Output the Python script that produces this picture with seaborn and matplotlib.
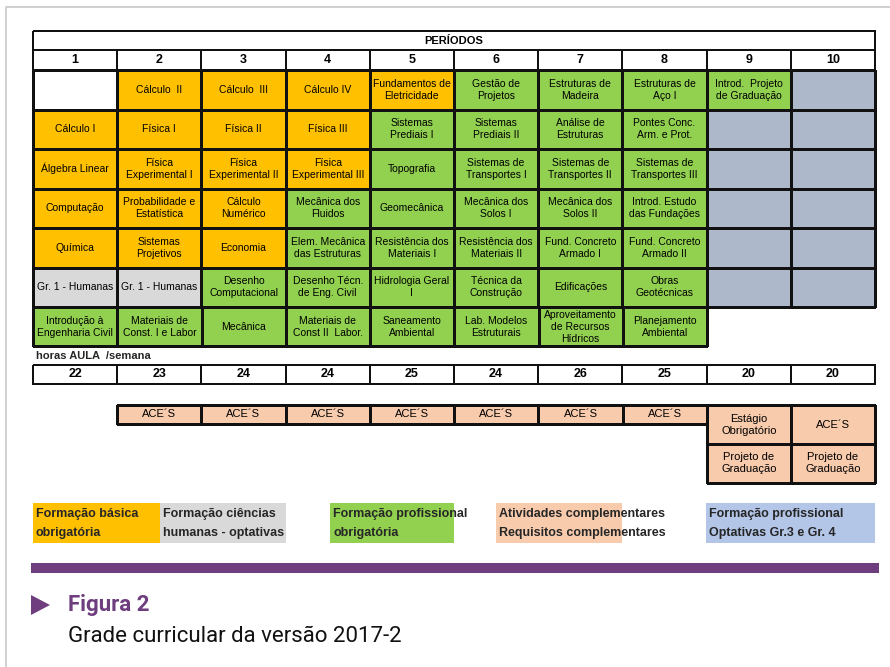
import matplotlib
matplotlib.use('Agg')
import matplotlib.pyplot as plt
from matplotlib.colors import ListedColormap
from matplotlib.patches import Rectangle, Polygon
import numpy as np
import seaborn as sns

# ---- dados da grade ----
periodos = ['1', '2', '3', '4', '5', '6', '7', '8', '9', '10']

grade = [
    ['', 'Cálculo  II', 'Cálculo  III', 'Cálculo IV', 'Fundamentos de\nEletricidade',
     'Gestão de\nProjetos', 'Estruturas de\nMadeira', 'Estruturas de\nAço I',
     'Introd.  Projeto\nde Graduação', ''],
    ['Cálculo I', 'Física I', 'Física II', 'Física III', 'Sistemas\nPrediais I',
     'Sistemas\nPrediais II', 'Análise de\nEstruturas', 'Pontes Conc.\nArm. e Prot.', '', ''],
    ['Álgebra Linear', 'Física\nExperimental I', 'Física\nExperimental II',
     'Física\nExperimental III', 'Topografia', 'Sistemas de\nTransportes I',
     'Sistemas de\nTransportes II', 'Sistemas de\nTransportes III', '', ''],
    ['Computação', 'Probabilidade e\nEstatística', 'Cálculo\nNumérico',
     'Mecânica dos\nFluidos', 'Geomecânica', 'Mecânica dos\nSolos I',
     'Mecânica dos\nSolos II', 'Introd. Estudo\ndas Fundações', '', ''],
    ['Química', 'Sistemas\nProjetivos', 'Economia', 'Elem. Mecânica\ndas Estruturas',
     'Resistência dos\nMateriais I', 'Resistência dos\nMateriais II',
     'Fund. Concreto\nArmado I', 'Fund. Concreto\nArmado II', '', ''],
    ['Gr. 1 - Humanas', 'Gr. 1 - Humanas', 'Desenho\nComputacional',
     'Desenho Técn.\nde Eng. Civil', 'Hidrologia Geral\nI', 'Técnica da\nConstrução',
     'Edificações', 'Obras\nGeotécnicas', '', ''],
]
ultima_linha = ['Introdução à\nEngenharia Civil', 'Materiais de\nConst. I e Labor',
                'Mecânica', 'Materiais de\nConst II  Labor.', 'Saneamento\nAmbiental',
                'Lab. Modelos\nEstruturais', 'Aproveitamento\nde Recursos\nHídricos',
                'Planejamento\nAmbiental']

# x = vazio, b = basica, h = humanas, p = profissional, g = optativas gr.3/gr.4
tipos = [
    ['x', 'b', 'b', 'b', 'b', 'p', 'p', 'p', 'p', 'g'],
    ['b', 'b', 'b', 'b', 'p', 'p', 'p', 'p', 'g', 'g'],
    ['b', 'b', 'b', 'b', 'p', 'p', 'p', 'p', 'g', 'g'],
    ['b', 'b', 'b', 'p', 'p', 'p', 'p', 'p', 'g', 'g'],
    ['b', 'b', 'b', 'p', 'p', 'p', 'p', 'p', 'g', 'g'],
    ['h', 'h', 'p', 'p', 'p', 'p', 'p', 'p', 'g', 'g'],
]
tipos_ultima = ['p', 'p', 'p', 'p', 'p', 'p', 'p', 'p']

horas = [22, 23, 24, 24, 25, 24, 26, 25, 20, 20]

aces = ['ACE´S'] * 7
finais = [['Estágio\nObrigatório', 'ACE´S'],
          ['Projeto de\nGraduação', 'Projeto de\nGraduação']]

legenda_cores = ['#FFC000', '#D9D9D9', '#92D050', '#F8CBAD', '#B4C6E7']
legenda_textos = [
    ('Formação básica', 'obrigatória'),
    ('Formação ciências', 'humanas - optativas'),
    ('Formação profissional', 'obrigatória'),
    ('Atividades complementares', 'Requisitos complementares'),
    ('Formação profissional', 'Optativas Gr.3 e Gr. 4'),
]

cores = {'x': 'white', 'b': '#FFC000', 'h': '#D9D9D9', 'p': '#92D050',
         'g': '#ADB9CA', 'c': '#F8CBAD'}
ordem = list(cores)
cmap = ListedColormap([cores[k] for k in ordem])

sns.set_theme(style='white')
plt.rcParams['font.family'] = ['Liberation Sans', 'DejaVu Sans']

W, H = 890, 667
fig = plt.figure(figsize=(W / 100, H / 100), dpi=100)
fig.patch.set_facecolor('white')

# eixo de fundo em pixels
base = fig.add_axes([0, 0, 1, 1])
base.set_xlim(0, W)
base.set_ylim(H, 0)
base.axis('off')


def eixo(x0, y0, x1, y1):
    return fig.add_axes([x0 / W, 1 - y1 / H, (x1 - x0) / W, (y1 - y0) / H])


def bloco(ax, rotulos, cods, fs=7.5, peso='normal', lw=0.9):
    matriz = np.array([[ordem.index(c) for c in linha] for linha in cods])
    sns.heatmap(matriz, ax=ax, cmap=cmap, vmin=-0.5, vmax=len(ordem) - 0.5,
                cbar=False, annot=np.array(rotulos), fmt='',
                linewidths=lw, linecolor='#111111',
                xticklabels=False, yticklabels=False,
                annot_kws=dict(fontsize=fs, color='black', fontweight=peso,
                               linespacing=1.25))
    ax.collections[0].set_clip_on(False)
    ax.tick_params(left=False, bottom=False)


# moldura cinza
base.plot([6, 6, W], [H, 7, 7], color='#C8C8C8', lw=1.2)

# cabeçalho
bloco(eixo(33, 31, 875, 50), [['PERÍODOS']], [['x']], fs=8, peso='bold', lw=1.1)
bloco(eixo(33, 50, 875, 70), [periodos], [['x'] * 10], fs=9, peso='bold', lw=1.1)

# grade principal
bloco(eixo(33, 70, 875, 307), grade, tipos)
bloco(eixo(33, 307, 707, 346), [ultima_linha], [tipos_ultima])

# horas
base.text(36, 356, 'horas AULA  /semana', fontsize=8, fontweight='bold',
          va='center', ha='left')
bloco(eixo(33, 365, 875, 384), [[str(h) for h in horas]], [['x'] * 10],
      fs=9, peso='bold', lw=1.1)

# atividades complementares
bloco(eixo(117, 405, 707, 424), [aces], [['c'] * 7], fs=8)
bloco(eixo(707, 405, 875, 483), finais, [['c', 'c'], ['c', 'c']], fs=8)

# legenda
caixas = [(33, 160), (160, 286), (330, 454), (496, 622), (706, 875)]
for (x0, x1), cor, (l1, l2) in zip(caixas, legenda_cores, legenda_textos):
    base.add_patch(Rectangle((x0, 503), x1 - x0, 40, color=cor, lw=0))
    base.text(x0 + 3, 514, l1, fontsize=9, fontweight='bold', va='center')
    base.text(x0 + 3, 533, l2, fontsize=9, fontweight='bold', va='center')

# barra e legenda da figura
roxo = '#6F3E7E'
base.add_patch(Rectangle((31, 563), 848, 10, color=roxo, lw=0))
base.add_patch(Polygon([[31, 595], [50, 605], [31, 615]], color=roxo, lw=0))
base.text(68, 605, 'Figura 2', fontsize=16, fontweight='bold', color=roxo,
          va='center', family=['Roboto', 'DejaVu Sans'])
base.text(68, 637, 'Grade curricular da versão 2017-2', fontsize=16,
          fontweight='normal', color='#111111', va='center',
          family=['Roboto', 'DejaVu Sans'])

fig.savefig('out.png', dpi=100, facecolor='white')
